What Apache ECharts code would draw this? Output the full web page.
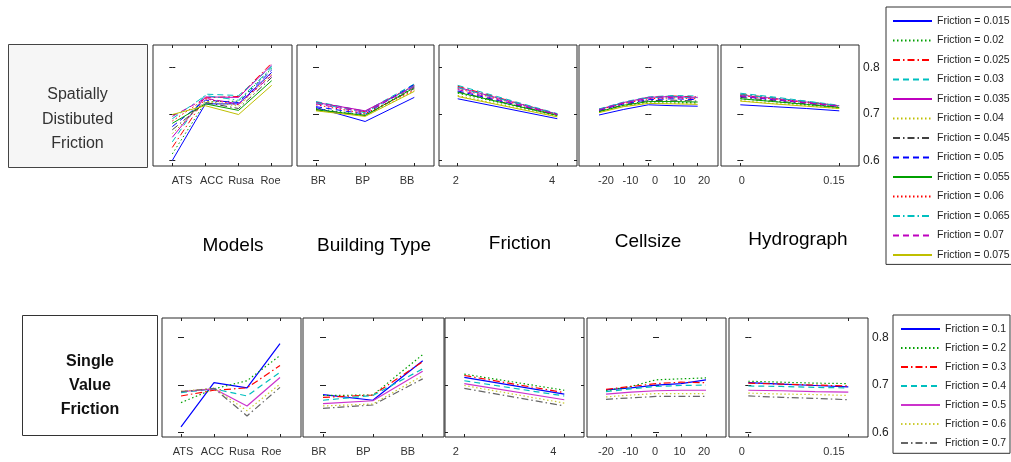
<!DOCTYPE html>
<html><head><meta charset="utf-8">
<script src="https://cdn.jsdelivr.net/npm/echarts@6/dist/echarts.min.js"></script>
<style>html,body{margin:0;padding:0;background:#fff}#c{width:1011px;height:462px}</style>
</head><body><div id="c"></div>
<script>
// ---------- data ----------
const topFrictions = ['0.015','0.02','0.025','0.03','0.035','0.04','0.045','0.05','0.055','0.06','0.065','0.07','0.075'];
const botFrictions = ['0.1','0.2','0.3','0.4','0.5','0.6','0.7'];
const panelTitles = ['Models','Building Type','Friction','Cellsize','Hydrograph'];
const modelLabels = ['ATS','ACC','Rusa','Roe'];
const buildingLabels = ['BR','BP','BB'];
const modelX = [0,1,2,3];
const buildingX = [0,1,2];
const frictionX = [2,4];
const cellsizeX = [-20,-10,0,10,20];
const hydroX = [0,0.05,0.1,0.15];
const frictionTicks = [2,4];
const cellsizeTicks = [-20,-10,0,10,20];
const hydroTicks = [0,0.15];
const yTicks = [0.6,0.7,0.8];

// Spatially distributed friction (13 series)
const sdModels = [
 [0.600,0.722,0.722,0.790],[0.614,0.726,0.728,0.798],[0.628,0.735,0.738,0.810],[0.640,0.743,0.740,0.803],
 [0.650,0.737,0.736,0.806],[0.658,0.728,0.717,0.785],[0.666,0.725,0.712,0.779],[0.673,0.730,0.725,0.795],
 [0.680,0.722,0.708,0.772],[0.685,0.733,0.720,0.788],[0.690,0.740,0.730,0.800],[0.695,0.734,0.722,0.783],
 [0.699,0.718,0.699,0.762]];
const sdBuilding = [
 [0.714,0.684,0.736],[0.712,0.698,0.758],[0.726,0.705,0.762],[0.727,0.706,0.765],
 [0.725,0.707,0.760],[0.708,0.696,0.750],[0.710,0.697,0.755],[0.716,0.700,0.764],
 [0.709,0.697,0.757],[0.720,0.701,0.752],[0.724,0.703,0.761],[0.722,0.704,0.759],
 [0.707,0.695,0.749]];
const sdFriction = [
 [0.733,0.690],[0.745,0.697],[0.760,0.700],[0.762,0.701],[0.758,0.700],[0.740,0.695],[0.748,0.698],
 [0.750,0.699],[0.747,0.697],[0.755,0.699],[0.757,0.700],[0.753,0.699],[0.738,0.694]];
const sdCellsize = [
 [0.698,0.710,0.720,0.718,0.717],[0.705,0.718,0.726,0.726,0.724],[0.710,0.724,0.736,0.739,0.737],
 [0.711,0.726,0.737,0.740,0.739],[0.710,0.725,0.736,0.738,0.736],[0.704,0.717,0.724,0.723,0.722],
 [0.706,0.720,0.729,0.730,0.728],[0.708,0.722,0.731,0.733,0.731],[0.705,0.719,0.727,0.727,0.726],
 [0.709,0.723,0.733,0.735,0.733],[0.710,0.725,0.735,0.737,0.735],[0.709,0.724,0.734,0.736,0.734],
 [0.703,0.716,0.723,0.722,0.721]];
const sdHydro = [
 [0.720,0.716,0.712,0.707],[0.733,0.727,0.720,0.714],[0.743,0.735,0.727,0.718],[0.745,0.737,0.728,0.719],
 [0.741,0.734,0.726,0.718],[0.729,0.723,0.718,0.712],[0.736,0.729,0.722,0.715],[0.738,0.731,0.724,0.716],
 [0.733,0.727,0.721,0.714],[0.740,0.733,0.725,0.717],[0.742,0.735,0.727,0.718],[0.739,0.732,0.724,0.717],
 [0.728,0.722,0.717,0.712]];

// Single value friction (7 series)
const svModels = [
 [0.612,0.705,0.694,0.787],[0.663,0.692,0.709,0.762],[0.677,0.689,0.694,0.741],[0.684,0.692,0.677,0.727],
 [0.686,0.692,0.656,0.716],[0.687,0.693,0.646,0.702],[0.686,0.693,0.635,0.695]];
const svBuilding = [
 [0.680,0.668,0.751],[0.678,0.679,0.764],[0.674,0.679,0.749],[0.668,0.678,0.734],
 [0.661,0.667,0.729],[0.656,0.660,0.720],[0.651,0.658,0.713]];
const svFriction = [
 [0.716,0.681],[0.723,0.689],[0.720,0.684],[0.709,0.677],[0.703,0.669],[0.699,0.662],[0.693,0.656]];
const svCellsize = [
 [0.690,0.694,0.700,0.703,0.711],[0.688,0.697,0.711,0.713,0.715],[0.691,0.697,0.703,0.706,0.705],
 [0.686,0.692,0.697,0.699,0.700],[0.681,0.685,0.688,0.689,0.689],[0.675,0.679,0.682,0.682,0.682],
 [0.670,0.673,0.676,0.676,0.676]];
const svHydro = [
 [0.705,0.702,0.699,0.696],[0.708,0.706,0.704,0.703],[0.704,0.702,0.700,0.698],[0.698,0.697,0.695,0.694],
 [0.689,0.688,0.686,0.685],[0.683,0.681,0.680,0.678],[0.677,0.674,0.672,0.669]];

// ---------- styles & layout ----------
const FONT = '"Liberation Sans", Arial, sans-serif';
const DASH = {solid:'solid', dot:[1.5,2.5], dash:[6,4], dashdot:[7,3,1.5,3]};
const topColors = ['#0000ff','#00a000','#ff0000','#00bfbf','#bf00bf','#bfbf00','#404040','#0000ff','#00a000','#ff0000','#00bfbf','#bf00bf','#bfbf00'];
const topDash = ['solid','dot','dashdot','dash','solid','dot','dashdot','dash','solid','dot','dashdot','dash','solid'];
const botColors = ['#0000ff','#00a000','#ff0000','#00bfbf','#cc33cc','#cccc33','#666666'];
const botDash = ['solid','dot','dashdot','dash','solid','dot','dashdot'];

const panelX = [modelX, buildingX, frictionX, cellsizeX, hydroX];
const panelTicks = [modelX, buildingX, frictionTicks, cellsizeTicks, hydroTicks];
const panelFmt = [v=>modelLabels[Math.round(v)], v=>buildingLabels[Math.round(v)], v=>String(v), v=>String(v), v=>String(v)];

const rows = [
 { names: topFrictions, colors: topColors, dash: topDash, width: 1,
   data: [sdModels, sdBuilding, sdFriction, sdCellsize, sdHydro],
   grids: [[153,45,139,121],[297,45,137,121],[439,45,138,121],[579,45,139,121],[721,45,138,121]],
   ticksPx: [[172.3,271.7],[316,414.3],[457.7,557.3],[599,697.7],[740.3,839.3]],
   labelsPx: [[182,270.5],[318.3,407],[455.7,552],[606,704],[741.7,834]],
   ymin: 0.588, ymax: 0.849 },
 { names: botFrictions, colors: botColors, dash: botDash, width: 1.2,
   data: [svModels, svBuilding, svFriction, svCellsize, svHydro],
   grids: [[162,318,139,119],[303,318,141,119],[445,318,139,119],[587,318,139,119],[729,318,139,119]],
   ticksPx: [[181,280],[323,422.7],[464.3,564.3],[606,706],[748.3,848.3]],
   labelsPx: [[183,271.3],[318.8,407.8],[455.7,553.3],[606,704],[741.7,834]],
   ymin: 0.5907, ymax: 0.841 }
];

function rangeFrom(g, p1, v1, p2, v2) {
  const u = (v2 - v1) / (p2 - p1);
  return [v1 - (p1 - g[0]) * u, v2 + (g[0] + g[2] - p2) * u];
}

const grid = [], xAxis = [], yAxis = [], series = [];
rows.forEach((row, r) => {
  row.grids.forEach((g, p) => {
    const gi = grid.length;
    grid.push({left: g[0], top: g[1], width: g[2], height: g[3], show: true,
      borderColor: '#2a2a2a', borderWidth: 1, backgroundColor: '#fff', containLabel: false});
    const tk = panelTicks[p];
    const v1 = tk[0], v2 = tk[tk.length - 1];
    const dr = rangeFrom(g, row.ticksPx[p][0], v1, row.ticksPx[p][1], v2);
    const lr = rangeFrom(g, row.labelsPx[p][0], v1, row.labelsPx[p][1], v2);
    const tickStyle = {show: true, inside: true, length: 3, lineStyle: {color: '#222'}, customValues: tk};
    const xi = xAxis.length;
    xAxis.push({type: 'value', gridIndex: gi, position: 'bottom', min: dr[0], max: dr[1],
      axisLine: {show: false}, splitLine: {show: false}, axisTick: tickStyle, axisLabel: {show: false}});
    xAxis.push({type: 'value', gridIndex: gi, position: 'top', min: dr[0], max: dr[1],
      axisLine: {show: false}, splitLine: {show: false}, axisTick: tickStyle, axisLabel: {show: false}});
    xAxis.push({type: 'value', gridIndex: gi, position: 'bottom', min: lr[0], max: lr[1],
      axisLine: {show: false}, splitLine: {show: false}, axisTick: {show: false},
      axisLabel: {show: true, customValues: tk, formatter: panelFmt[p], margin: 9,
        fontFamily: FONT, fontSize: 11, color: '#333', hideOverlap: false}});
    const yi = yAxis.length;
    const yTick = {show: true, inside: true, length: 3, lineStyle: {color: '#222'}, customValues: yTicks};
    yAxis.push({type: 'value', gridIndex: gi, position: 'left', min: row.ymin, max: row.ymax,
      axisLine: {show: false}, splitLine: {show: false}, axisTick: yTick, axisLabel: {show: false}});
    yAxis.push({type: 'value', gridIndex: gi, position: 'right', min: row.ymin, max: row.ymax,
      axisLine: {show: false}, splitLine: {show: false}, axisTick: yTick,
      axisLabel: {show: p === 4, customValues: yTicks, formatter: v => v.toFixed(1), margin: 4,
        fontFamily: FONT, fontSize: 12, color: '#222'}});
    row.names.forEach((nm, i) => {
      series.push({type: 'line', name: 'Friction = ' + nm, xAxisIndex: xi, yAxisIndex: yi,
        symbol: 'none', silent: true, animation: false,
        lineStyle: {color: row.colors[i], width: row.width, type: DASH[row.dash[i]]},
        itemStyle: {color: row.colors[i]},
        data: panelX[p].map((x, j) => [x, row.data[p][i][j]])});
    });
  });
});

const legendText = {fontFamily: FONT, fontSize: 10.5, color: '#222'};
const legend = [
  {orient: 'vertical', left: 886, top: 7, itemWidth: 39, itemHeight: 14, itemGap: 8.3,
   padding: [8.5, 2, 3.7, 6], borderColor: '#333', borderWidth: 1, backgroundColor: '#fff',
   itemStyle: {opacity: 0},
   selectedMode: false, textStyle: legendText, data: topFrictions.map(f => 'Friction = ' + f)},
  {orient: 'vertical', left: 893, top: 315, itemWidth: 39, itemHeight: 14, itemGap: 7.8,
   padding: [8.4, 4, 4.7, 7], borderColor: '#333', borderWidth: 1, backgroundColor: '#fff',
   itemStyle: {opacity: 0},
   selectedMode: false, textStyle: legendText, data: botFrictions.map(f => 'Friction = ' + f)}
];

const titlePos = [[233,246],[374,246],[520,244],[648,242],[798,240]];
const graphic = [
  {type: 'rect', shape: {x: 8.5, y: 44.5, width: 139, height: 123},
   style: {fill: '#f6f6f6', stroke: '#444', lineWidth: 1}},
  {type: 'text', x: 77.5, y: 95, style: {text: 'Spatially', font: '16px ' + FONT, fill: '#333', align: 'center', verticalAlign: 'middle'}},
  {type: 'text', x: 77.5, y: 119.5, style: {text: 'Distibuted', font: '16px ' + FONT, fill: '#333', align: 'center', verticalAlign: 'middle'}},
  {type: 'text', x: 77.5, y: 144, style: {text: 'Friction', font: '16px ' + FONT, fill: '#333', align: 'center', verticalAlign: 'middle'}},
  {type: 'rect', shape: {x: 22.5, y: 315.5, width: 135, height: 120},
   style: {fill: '#fff', stroke: '#333', lineWidth: 1}},
  {type: 'text', x: 90, y: 362, style: {text: 'Single', font: 'bold 16px ' + FONT, fill: '#111', align: 'center', verticalAlign: 'middle'}},
  {type: 'text', x: 90, y: 386, style: {text: 'Value', font: 'bold 16px ' + FONT, fill: '#111', align: 'center', verticalAlign: 'middle'}},
  {type: 'text', x: 90, y: 410, style: {text: 'Friction', font: 'bold 16px ' + FONT, fill: '#111', align: 'center', verticalAlign: 'middle'}}
];
panelTitles.forEach((t, i) => graphic.push({type: 'text', x: titlePos[i][0], y: titlePos[i][1],
  style: {text: t, font: '19px ' + FONT, fill: '#000', align: 'center', verticalAlign: 'middle'}}));

const chart = echarts.init(document.getElementById('c'), null, {renderer: 'canvas'});
chart.setOption({animation: false, backgroundColor: '#fff', grid, xAxis, yAxis, series, legend, graphic});
</script></body></html>
